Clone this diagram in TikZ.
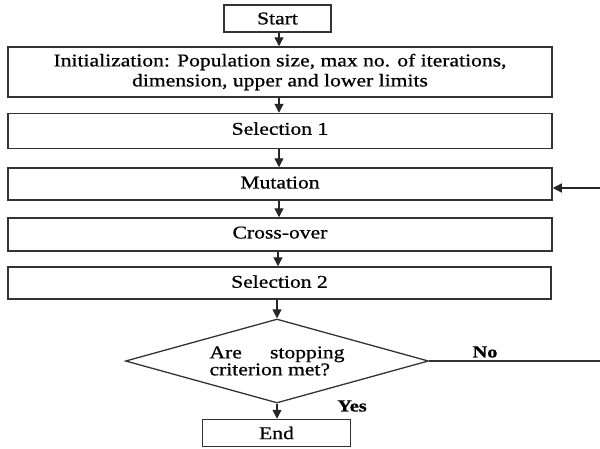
\documentclass[tikz,border=0pt]{standalone}
\usepackage{fontspec}
\setmainfont{Liberation Serif}[FakeStretch=1.2,FakeBold=0.8]
\usetikzlibrary{shapes.geometric,arrows.meta}
\begin{document}
\begin{tikzpicture}[x=1pt,y=-1pt,
  box/.style={draw=black!80,line width=1.5pt,rectangle,inner sep=0pt,minimum width=544pt,font=\fontsize{18}{20}\selectfont},
  decision/.style={draw=black!80,line width=1.3pt,diamond,aspect=3.6,inner sep=0pt,minimum width=303pt,minimum height=84pt,font=\fontsize{18}{17}\selectfont},
  flow/.style={draw=black!85,line width=1.3pt,-{Triangle[length=9pt,width=9pt]}},
  plain/.style={draw=black!80,line width=1.3pt},
  lbl/.style={inner sep=0pt,font=\fontsize{17}{20}\selectfont\bfseries}
]
\useasboundingbox (0,0) rectangle (600,448);
\node[box,minimum width=107pt,minimum height=27pt] (start) at (277.5,18.5) {Start};
\node[box,minimum height=50pt,align=center] (init) at (280,72) {Initialization: Population size, max no. of iterations,\\dimension, upper and lower limits};
\node[box,minimum height=35pt] (sel1) at (280,131) {\raisebox{5pt}{Selection 1}};
\node[box,minimum height=32pt] (mut) at (280,184) {\raisebox{3pt}{Mutation}};
\node[box,minimum height=33pt] (cross) at (280,234.5) {\raisebox{4pt}{Cross-over}};
\node[box,minimum width=543pt,minimum height=32pt] (sel2) at (279.5,283) {\raisebox{3pt}{Selection 2}};
\node[decision] (dia) at (277,361) {\parbox{135pt}{Are\hfill stopping\\criterion met?}};
\node[box,minimum width=148pt,minimum height=27pt] (end) at (276.5,433) {End};
\coordinate (noend) at (600,361);
\coordinate (mutin) at (600,188);
\node[lbl] (no) at (485,352) {No};
\node[lbl] (yes) at (352,406) {Yes};
\draw[flow] (start.south -| 279,0) -- (279,0 |- init.north);
\draw[flow] (init.south -| 279,0) -- (279,0 |- sel1.north);
\draw[flow] (sel1.south -| 279,0) -- (279,0 |- mut.north);
\draw[flow] (mut.south -| 279,0) -- (279,0 |- cross.north);
\draw[flow] (cross.south -| 278,0) -- (278,0 |- sel2.north);
\draw[flow] (dia.north |- sel2.south) -- (dia.north);
\draw[flow] (dia.south) -- (dia.south |- end.north);
\draw[plain] (dia.east) -- (noend);
\draw[flow] (mutin) -- (mutin -| mut.east);
\end{tikzpicture}
\end{document}
